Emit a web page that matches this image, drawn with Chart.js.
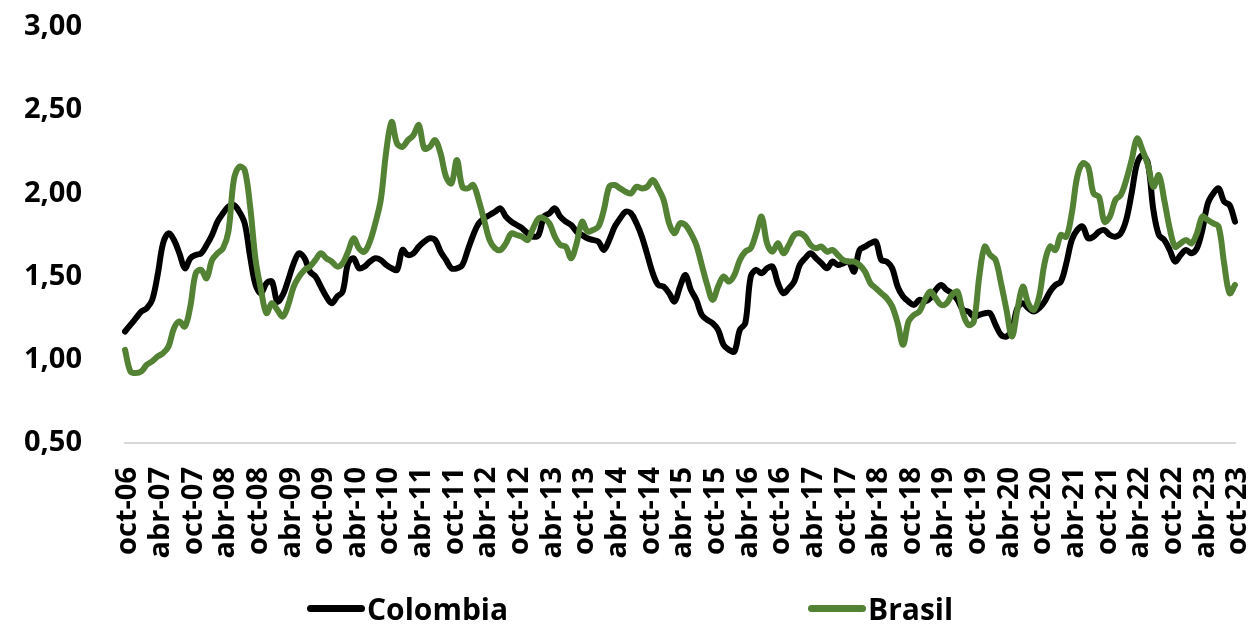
<!DOCTYPE html>
<html>
<head>
<meta charset="utf-8">
<script src="https://cdn.jsdelivr.net/npm/chart.js@4.4.0/dist/chart.umd.min.js"></script>
<style>
    html, body { margin: 0; padding: 0; background: #fff; }
    .chart-wrap { position: relative; width: 1254px; height: 634px; }
    .legend { position: absolute; left: 0; top: 592px; width: 1254px; height: 32px; font: bold 30px 'Open Sans', sans-serif; color: #000; }
    .legend-item { position: absolute; top: 0; height: 32px; display: flex; align-items: center; }
    .legend-line { width: 58px; height: 7px; border-radius: 4px; margin-right: 2px; }
</style>
</head>
<body>
<div class="chart-wrap">
    <canvas id="chart"></canvas>
    <div class="legend">
        <div class="legend-item" style="left: 307px;"><span class="legend-line" style="background:#000000;"></span>Colombia</div>
        <div class="legend-item" style="left: 808px;"><span class="legend-line" style="background:#548235;"></span>Brasil</div>
    </div>
</div>
<script>
// monthly series, oct-06 .. oct-23
const monthNames = ['ene', 'feb', 'mar', 'abr', 'may', 'jun', 'jul', 'ago', 'sep', 'oct', 'nov', 'dic'];
const startYear = 2006;
const startMonth = 9; // oct
const labelEvery = 6;

const colombia = [
    1.17, 1.21, 1.25, 1.29, 1.31, 1.36, 1.51, 1.70, 1.76, 1.72, 1.64, 1.55,
    1.61, 1.63, 1.64, 1.69, 1.75, 1.83, 1.88, 1.92, 1.93, 1.89, 1.82, 1.62,
    1.45, 1.40, 1.46, 1.47, 1.35, 1.39, 1.48, 1.58, 1.64, 1.61, 1.53, 1.50,
    1.44, 1.38, 1.34, 1.38, 1.41, 1.58, 1.61, 1.55, 1.56, 1.59, 1.61, 1.60,
    1.57, 1.55, 1.54, 1.66, 1.63, 1.64, 1.68, 1.71, 1.73, 1.72, 1.65, 1.60,
    1.55, 1.55, 1.57, 1.66, 1.75, 1.82, 1.85, 1.87, 1.89, 1.91, 1.86, 1.83,
    1.81, 1.79, 1.76, 1.74, 1.75, 1.86, 1.88, 1.91, 1.86, 1.83, 1.81, 1.77,
    1.75, 1.73, 1.72, 1.71, 1.66, 1.72, 1.80, 1.85, 1.89, 1.88, 1.82, 1.74,
    1.63, 1.52, 1.45, 1.44, 1.40, 1.35, 1.44, 1.51, 1.42, 1.36, 1.27, 1.24,
    1.22, 1.18, 1.09, 1.06, 1.05, 1.18, 1.22, 1.50, 1.54, 1.52, 1.55, 1.56,
    1.46, 1.40, 1.43, 1.47, 1.57, 1.61, 1.64, 1.61, 1.58, 1.55, 1.59, 1.57,
    1.58, 1.59, 1.53, 1.66, 1.68, 1.70, 1.71, 1.60, 1.59, 1.55, 1.44, 1.38,
    1.35, 1.33, 1.36, 1.35, 1.37, 1.42, 1.45, 1.42, 1.40, 1.36, 1.30, 1.29,
    1.26, 1.27, 1.28, 1.28, 1.21, 1.15, 1.14, 1.18, 1.31, 1.34, 1.31, 1.29,
    1.31, 1.35, 1.41, 1.45, 1.47, 1.58, 1.72, 1.78, 1.80, 1.73, 1.74, 1.77,
    1.78, 1.75, 1.74, 1.76, 1.84, 2.00, 2.18, 2.23, 2.18, 1.90, 1.75, 1.72,
    1.66, 1.59, 1.63, 1.66, 1.64, 1.67, 1.78, 1.94, 2.00, 2.03, 1.95, 1.93,
    1.83
];

const brasil = [
    1.06, 0.93, 0.92, 0.93, 0.97, 0.99, 1.02, 1.04, 1.08, 1.19, 1.23, 1.20,
    1.32, 1.52, 1.54, 1.49, 1.60, 1.64, 1.67, 1.77, 2.08, 2.16, 2.14, 1.92,
    1.60, 1.42, 1.28, 1.34, 1.30, 1.26, 1.33, 1.44, 1.50, 1.54, 1.56, 1.60,
    1.64, 1.61, 1.59, 1.56, 1.58, 1.65, 1.73, 1.67, 1.65, 1.71, 1.82, 1.96,
    2.25, 2.43, 2.30, 2.28, 2.32, 2.35, 2.41, 2.27, 2.28, 2.32, 2.24, 2.10,
    2.06, 2.20, 2.04, 2.03, 2.05, 1.96, 1.84, 1.72, 1.67, 1.66, 1.70, 1.76,
    1.75, 1.74, 1.72, 1.79, 1.85, 1.85, 1.82, 1.74, 1.69, 1.68, 1.61, 1.70,
    1.83, 1.77, 1.78, 1.80, 1.90, 2.04, 2.05, 2.03, 2.01, 2.00, 2.04, 2.03,
    2.04, 2.08, 2.03, 1.96, 1.82, 1.76, 1.82, 1.81, 1.76, 1.69, 1.57, 1.45,
    1.36, 1.44, 1.50, 1.47, 1.51, 1.60, 1.65, 1.67, 1.76, 1.86, 1.70, 1.65,
    1.70, 1.64, 1.69, 1.75, 1.76, 1.74, 1.69, 1.67, 1.68, 1.65, 1.66, 1.63,
    1.60, 1.59, 1.59, 1.57, 1.53, 1.46, 1.43, 1.40, 1.37, 1.32, 1.22, 1.09,
    1.23, 1.27, 1.29, 1.36, 1.41, 1.37, 1.33, 1.34, 1.39, 1.41, 1.28, 1.21,
    1.23, 1.50, 1.68, 1.63, 1.60, 1.46, 1.30, 1.14, 1.30, 1.44, 1.34, 1.30,
    1.38, 1.58, 1.68, 1.66, 1.75, 1.74, 1.88, 2.10, 2.18, 2.16, 2.00, 1.98,
    1.83, 1.86, 1.96, 1.99, 2.08, 2.20, 2.33, 2.26, 2.17, 2.04, 2.11, 1.96,
    1.79, 1.68, 1.70, 1.72, 1.70, 1.76, 1.86, 1.84, 1.82, 1.80, 1.58, 1.40,
    1.45
];

const labels = colombia.map((_, i) => {
    const m = (startMonth + i) % 12;
    const y = startYear + Math.floor((startMonth + i) / 12);
    return `${monthNames[m]}-${String(y % 100).padStart(2, '0')}`;
});

const tickFont = { family: "'Open Sans', sans-serif", weight: 'bold', size: 29 };

new Chart(document.getElementById('chart'), {
    type: 'line',
    data: {
        labels: labels,
        datasets: [
            { label: 'Colombia', data: colombia, borderColor: '#000000', backgroundColor: '#000000', order: 1 },
            { label: 'Brasil', data: brasil, borderColor: '#548235', backgroundColor: '#548235', order: 0 }
        ]
    },
    options: {
        responsive: true, maintainAspectRatio: false, animation: false,
        layout: { padding: { left: 18, right: 19, top: 27, bottom: 68 } },
        elements: {
            point: { radius: 0 },
            line: { borderWidth: 6, tension: 0.35, borderCapStyle: 'round', borderJoinStyle: 'round' }
        },
        plugins: { legend: { display: false }, tooltip: { enabled: false } },
        scales: {
            x: {
                offset: false,
                grid: { display: false, drawTicks: false },
                border: { color: '#d9d9d9', width: 2 },
                ticks: {
                    autoSkip: false, minRotation: 90, maxRotation: 90, padding: 24, labelOffset: 3,
                    color: '#000', font: tickFont,
                    callback: (v, i) => i % labelEvery === 0 ? labels[i] : ''
                },
                afterFit: s => { s.height = 123; s.paddingLeft = 0; s.paddingRight = 0; }
            },
            y: {
                min: 0.5, max: 3,
                grid: { display: false, drawTicks: false },
                border: { display: false },
                ticks: {
                    stepSize: 0.5, padding: 43, color: '#000', font: tickFont,
                    callback: v => v.toFixed(2).replace('.', ',')
                },
                afterFit: s => { s.width = 107; s.paddingTop = 0; s.paddingBottom = 0; }
            }
        }
    }
});
</script>
</body>
</html>
